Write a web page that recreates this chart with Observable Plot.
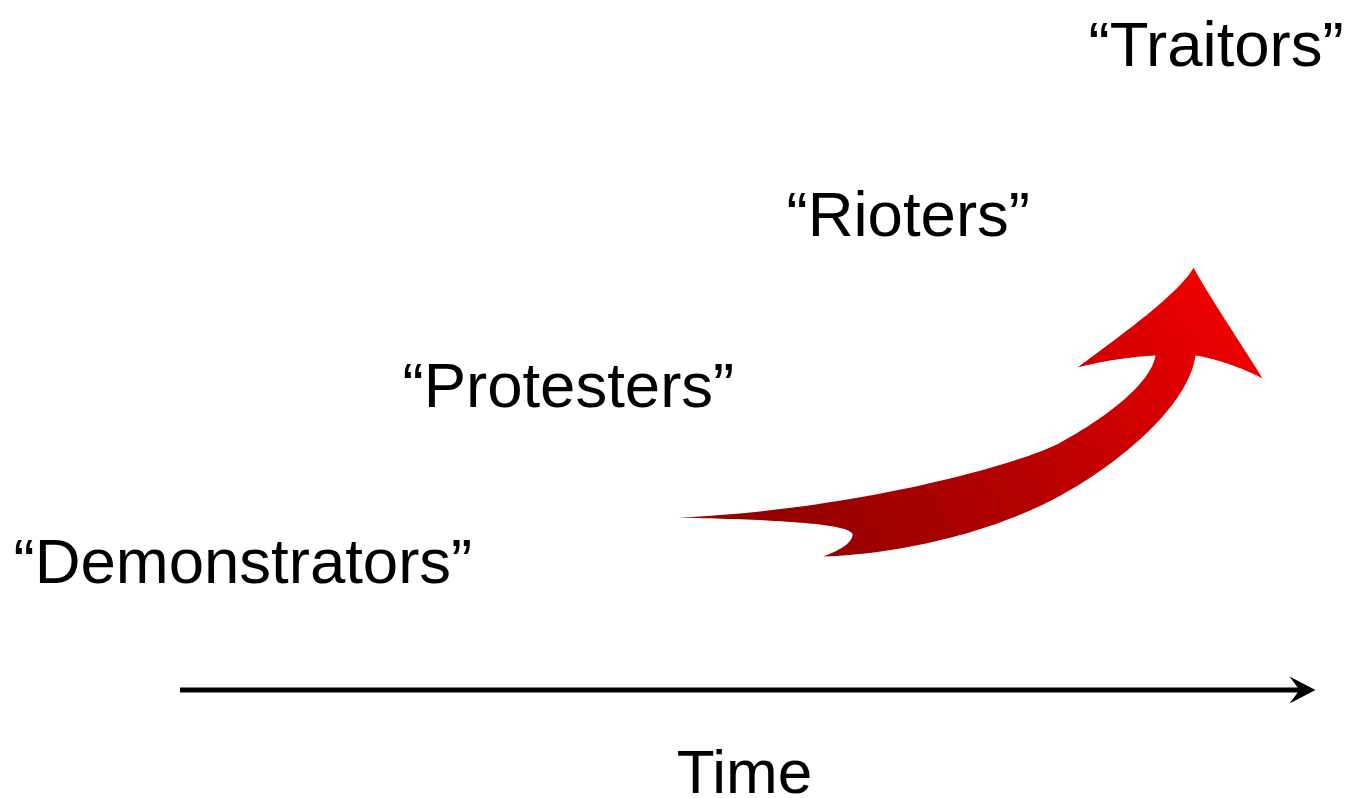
<!DOCTYPE html>
<html>
<head>
<meta charset="utf-8">
<script src="https://cdn.jsdelivr.net/npm/d3@7"></script>
<script src="https://cdn.jsdelivr.net/npm/@observablehq/plot@0.6"></script>
<style>
  html, body { margin: 0; padding: 0; background: #ffffff; }
  #chart svg { display: block; }
</style>
</head>
<body>
<div id="chart"></div>
<script>
// ---- Data ----
const labels = ["“Demonstrators”", "“Protesters”", "“Rioters”", "“Traitors”"];
const stages = [0, 1, 2, 3];
const axisLabel = "Time";

// ---- Layout (diagram frame, pixel-like units) ----
const W = 1345, H = 798;
const labelLeft = [13, 402, 786, 1088];
const labelBase = [582, 406, 235, 65];
const timeAxis = {x1: 180, x2: 1300, y: 689.5};
const timeHead = [[1315, 689.5], [1289, 676], [1299, 689.5], [1289, 703], [1315, 689.5]];

// Red arrow outline as cubic Bezier segments [p0, c1, c2, p3]
const arrowSegments = [
  [[678, 517], [760, 519], [855, 522], [852, 535]],
  [[852, 535], [850, 545], [835, 551], [823, 556]],
  [[823, 556], [910, 553], [1000, 528], [1060, 495]],
  [[1060, 495], [1120, 462], [1188, 405], [1195, 355]],
  [[1195, 355], [1210, 357], [1240, 366], [1262, 378]],
  [[1262, 378], [1245, 350], [1208, 295], [1193, 267]],
  [[1193, 267], [1180, 292], [1120, 335], [1077, 367]],
  [[1077, 367], [1100, 361], [1130, 356], [1155, 355]],
  [[1155, 355], [1150, 385], [1100, 420], [1060, 442]],
  [[1060, 442], [1020, 464], [850, 510], [678, 517]]
];

function bez(seg, t) {
  const [p0, c1, c2, p3] = seg, u = 1 - t;
  return [
    u*u*u*p0[0] + 3*u*u*t*c1[0] + 3*u*t*t*c2[0] + t*t*t*p3[0],
    u*u*u*p0[1] + 3*u*u*t*c1[1] + 3*u*t*t*c2[1] + t*t*t*p3[1]
  ];
}
const arrowOutline = [];
arrowSegments.forEach(seg => {
  for (let i = 0; i <= 40; i++) arrowOutline.push(bez(seg, i / 40));
});

const labelData = stages.map(i => ({label: labels[i], x: labelLeft[i], y: labelBase[i]}));

const gradientDefs = () => {
  const ns = "http://www.w3.org/2000/svg";
  const defs = document.createElementNS(ns, "defs");
  const g = document.createElementNS(ns, "linearGradient");
  g.setAttribute("id", "redGrad");
  g.setAttribute("gradientUnits", "userSpaceOnUse");
  g.setAttribute("x1", 820); g.setAttribute("y1", 560);
  g.setAttribute("x2", 1200); g.setAttribute("y2", 280);
  [["0%", "#960000"], ["45%", "#b50000"], ["100%", "#ee0000"]].forEach(([o, c]) => {
    const s = document.createElementNS(ns, "stop");
    s.setAttribute("offset", o); s.setAttribute("stop-color", c);
    g.appendChild(s);
  });
  defs.appendChild(g);
  return defs;
};

const chart = Plot.plot({
  width: W,
  height: H,
  margin: 0,
  x: {domain: [0, W], range: [0, W], axis: null},
  y: {domain: [0, H], range: [0, H], axis: null},
  style: {background: "#ffffff", fontFamily: "'Liberation Sans', Arial, sans-serif"},
  marks: [
    gradientDefs,
    Plot.line(arrowOutline, {x: d => d[0], y: d => d[1], fill: "url(#redGrad)", stroke: "none", curve: "linear"}),
    Plot.ruleY([timeAxis.y], {x1: timeAxis.x1, x2: timeAxis.x2, stroke: "#000", strokeWidth: 5}),
    Plot.line(timeHead, {x: d => d[0], y: d => d[1], fill: "#000", stroke: "none"}),
    Plot.text(labelData, {x: "x", y: "y", text: "label", textAnchor: "start", lineAnchor: "bottom", fontSize: 63.5, fill: "#000"}),
    Plot.text([axisLabel], {x: 744, y: 792, text: d => d, textAnchor: "middle", lineAnchor: "bottom", fontSize: 62, fill: "#000"})
  ]
});
document.getElementById("chart").appendChild(chart);
</script>
</body>
</html>
